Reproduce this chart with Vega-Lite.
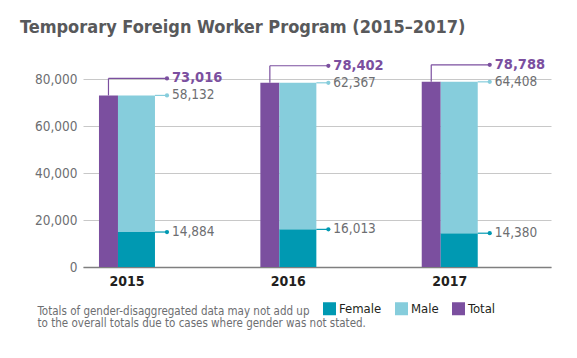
{
  "$schema": "https://vega.github.io/schema/vega-lite/v6.json",
  "autosize": {"type": "none"},
  "width": 468,
  "height": 188,
  "padding": {"left": 83, "top": 79, "right": 26, "bottom": 91},
  "background": "white",
  "config": {
    "view": {"stroke": null},
    "font": "DejaVu Sans Condensed, Liberation Sans, sans-serif",
    "numberFormat": ",",
    "axisY": {
      "labelExpr": "format(datum.value, ',')"
    },
    "legend": {
      "orient": "none",
      "direction": "horizontal",
      "legendX": 240,
      "legendY": 223,
      "symbolType": "square",
      "symbolSize": 169,
      "symbolStrokeWidth": 0,
      "symbolOpacity": 1,
      "labelFontSize": 13,
      "labelColor": "#231f20",
      "labelOffset": 3,
      "columnPadding": 13
    }
  },
  "title": {
    "text": "Temporary Foreign Worker Program (2015–2017)",
    "anchor": "start",
    "frame": "group",
    "dx": -63,
    "offset": 20,
    "fontSize": 18,
    "fontWeight": "bold",
    "color": "#58595b"
  },
  "datasets": {
    "tfw": [
      {"year": "2015", "Total": 73016, "Female": 14884, "Male": 58132},
      {"year": "2016", "Total": 78402, "Female": 16013, "Male": 62367},
      {"year": "2017", "Total": 78788, "Female": 14380, "Male": 64408}
    ]
  },
  "data": {"name": "tfw"},
  "encoding": {
    "x": {
      "field": "year",
      "type": "nominal",
      "scale": {"paddingInner": 0.6, "paddingOuter": 0.25, "align": 0.145},
      "axis": {
        "labelAngle": 0,
        "labelFontSize": 14,
        "labelFontWeight": "bold",
        "labelColor": "#231f20",
        "labelPadding": 7,
        "ticks": false,
        "domainColor": "#7f7f7f",
        "domainWidth": 1.5,
        "title": ["Totals of gender-disaggregated data may not add up", "to the overall totals due to cases where gender was not stated."],
        "titleAnchor": "start",
        "titleAlign": "left",
        "titleBaseline": "top",
        "titleX": -46,
        "titleY": 38,
        "titleFontSize": 11.5,
        "titleFontWeight": "normal",
        "titleColor": "#6d6e71",
        "titleLineHeight": 12.5
      }
    }
  },
  "layer": [
    {
      "mark": {"type": "bar", "width": 19, "xOffset": -18.5},
      "encoding": {
        "y": {
          "field": "Total",
          "type": "quantitative",
          "scale": {"domain": [0, 80000], "nice": false},
          "axis": {
            "title": null,
            "values": [0, 20000, 40000, 60000, 80000],
            "labelExpr": "format(datum.value, ',')",
            "domain": false,
            "ticks": false,
            "labelFontSize": 13.5,
            "labelColor": "#6d6e71",
            "labelPadding": 6,
            "gridColor": "#c8c8c8",
            "gridWidth": 1
          }
        },
        "color": {
          "datum": "Total",
          "type": "nominal",
          "title": null,
          "scale": {"domain": ["Female", "Male", "Total"], "range": ["#0099b2", "#86cddc", "#7b4f9f"]}
        }
      }
    },
    {
      "transform": [
        {"fold": ["Female", "Male"], "as": ["key", "value"]},
        {"stack": "value", "groupby": ["year"], "sort": [{"field": "key", "order": "ascending"}], "as": ["v0", "v1"]}
      ],
      "layer": [
        {
          "mark": {"type": "bar", "width": 37, "xOffset": 9.5},
          "encoding": {
            "y": {"field": "v0", "type": "quantitative", "title": null},
            "y2": {"field": "v1"},
            "color": {"field": "key", "type": "nominal", "title": null}
          }
        },
        {
          "mark": {"type": "rule", "xOffset": 28, "x2Offset": 40, "strokeWidth": 1.2},
          "encoding": {
            "x2": {"field": "year"},
            "y": {"field": "v1", "type": "quantitative", "title": null},
            "color": {"field": "key", "type": "nominal", "title": null}
          }
        },
        {
          "mark": {"type": "point", "filled": true, "size": 18, "opacity": 1, "xOffset": 40},
          "encoding": {
            "y": {"field": "v1", "type": "quantitative", "title": null},
            "color": {"field": "key", "type": "nominal", "title": null}
          }
        },
        {
          "mark": {"type": "text", "align": "left", "baseline": "middle", "xOffset": 45, "fontSize": 13.5, "color": "#6d6e71"},
          "encoding": {
            "y": {"field": "v1", "type": "quantitative", "title": null},
            "text": {"field": "value", "type": "quantitative", "format": ","}
          }
        }
      ]
    },
    {
      "mark": {"type": "rule", "xOffset": -18.5, "y2Offset": -17, "strokeWidth": 1.2, "color": "#7b4f9f"},
      "encoding": {
        "y": {"field": "Total", "type": "quantitative"},
        "y2": {"field": "Total"}
      }
    },
    {
      "mark": {"type": "rule", "xOffset": -18.5, "x2Offset": 40, "yOffset": -17, "strokeWidth": 1.2, "color": "#7b4f9f"},
      "encoding": {
        "x2": {"field": "year"},
        "y": {"field": "Total", "type": "quantitative"}
      }
    },
    {
      "mark": {"type": "point", "filled": true, "size": 18, "opacity": 1, "xOffset": 40, "yOffset": -17, "color": "#7b4f9f"},
      "encoding": {
        "y": {"field": "Total", "type": "quantitative"}
      }
    },
    {
      "mark": {"type": "text", "align": "left", "baseline": "middle", "xOffset": 45, "yOffset": -17, "fontSize": 14.5, "fontWeight": "bold", "color": "#7b4f9f"},
      "encoding": {
        "y": {"field": "Total", "type": "quantitative"},
        "text": {"field": "Total", "type": "quantitative", "format": ","}
      }
    }
  ]
}
